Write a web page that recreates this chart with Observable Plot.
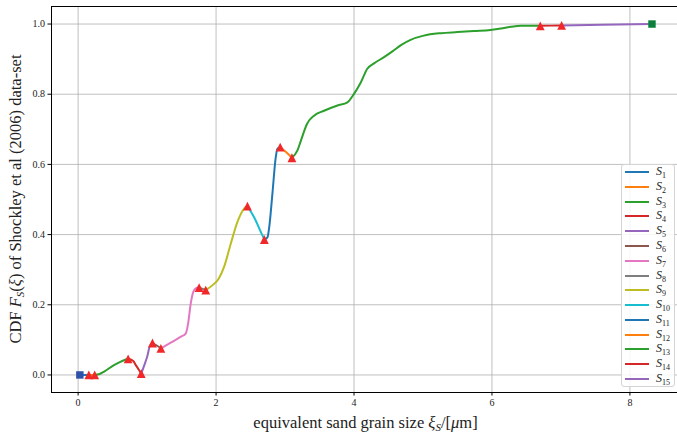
<!DOCTYPE html>
<html>
<head>
<meta charset="utf-8">
<script src="https://cdn.jsdelivr.net/npm/d3@7"></script>
<script src="https://cdn.jsdelivr.net/npm/@observablehq/plot@0.6"></script>
<style>
  body { margin: 0; background: #fff; }
  #chart { position: relative; width: 677px; height: 436px; font-family: "Liberation Serif", serif; }
  .legend { position: absolute; left: 621px; top: 164px; width: 54px; height: 223px;
            border: 1px solid #d4d4d4; border-radius: 3px; background: rgba(255,255,255,0.85);
            box-sizing: border-box; }
  .legend .row { position: absolute; left: 0; height: 14px; width: 54px; }
  .legend .sw { position: absolute; left: 3px; top: 6px; width: 24px; height: 2px; }
  .legend .lab { position: absolute; left: 34px; top: -1px; font-size: 12px; font-style: italic; color: #222; white-space: nowrap; }
  .legend .lab sub { font-size: 8px; font-style: normal; vertical-align: -3px; }
</style>
</head>
<body>
<div id="chart"></div>
<script>
// Break points between the fitted pieces S1..S15 (first and last are the end squares)
const breakX = [0.025, 0.155, 0.24, 0.725, 0.915, 1.078, 1.20, 1.754, 1.85, 2.455, 2.70, 2.93, 3.10, 6.70, 7.01, 8.32];
const breakY = [0.0, 0.0, 0.0, 0.046, 0.004, 0.091, 0.076, 0.249, 0.242, 0.481, 0.386, 0.649, 0.619, 0.995, 0.996, 1.0];

// Interior points of the smooth CDF curve
const traceX = [0.30, 0.377, 0.52, 0.62, 0.667,
                0.80, 0.836, 0.88,
                0.96, 1.005, 1.04,
                1.14,
                1.343, 1.49, 1.56, 1.595, 1.633, 1.67, 1.71,
                1.95, 2.04, 2.116, 2.213, 2.31, 2.406,
                2.55, 2.65,
                2.745, 2.77, 2.817, 2.865, 2.89,
                3.01,
                3.18, 3.23, 3.32, 3.42, 3.565, 3.76, 3.905, 4.0, 4.1, 4.19, 4.29, 4.43, 4.557,
                4.68, 4.82, 5.01, 5.26, 5.50, 5.74, 5.98, 6.13, 6.27, 6.42,
                6.85,
                7.6];
const traceY = [0.002, 0.0095, 0.028, 0.038, 0.042,
                0.040, 0.028, 0.015,
                0.028, 0.055, 0.083,
                0.084,
                0.092, 0.109, 0.118, 0.147, 0.204, 0.237, 0.247,
                0.256, 0.275, 0.308, 0.374, 0.436, 0.474,
                0.450, 0.407,
                0.392, 0.420, 0.517, 0.620, 0.645,
                0.636,
                0.640, 0.668, 0.716, 0.739, 0.753, 0.768, 0.777, 0.801, 0.834, 0.872, 0.888, 0.905, 0.922,
                0.940, 0.955, 0.967, 0.974, 0.977, 0.980, 0.983, 0.987, 0.992, 0.995,
                0.9955,
                0.998];

const seriesNames = ["1","2","3","4","5","6","7","8","9","10","11","12","13","14","15"];
const palette = ["#1f77b4","#ff7f0e","#2ca02c","#d62728","#9467bd","#8c564b","#e377c2","#7f7f7f","#bcbd22","#17becf"];
const xTicks = [0, 2, 4, 6, 8];
const yTicks = [0, 0.2, 0.4, 0.6, 0.8, 1.0];

// One row per vertex, grouped by piece
const rows = [];
for (let i = 0; i < breakX.length - 1; i++) {
  rows.push({seg: i, x: breakX[i], y: breakY[i]});
  traceX.forEach((x, k) => {
    if (x > breakX[i] && x < breakX[i + 1]) rows.push({seg: i, x, y: traceY[k]});
  });
  rows.push({seg: i, x: breakX[i + 1], y: breakY[i + 1]});
}

const knots = breakX.map((x, i) => ({i, x, y: breakY[i]}));
const inner = knots.slice(1, -1);
const ends = [knots[0], knots[knots.length - 1]];
const endColors = ["#2f52a8", "#0d7f3c"];

// upward triangle like a "^" marker: as wide as it is tall
const upTriangle = {
  draw(ctx, size) {
    const a = Math.sqrt(size / Math.PI);
    ctx.moveTo(0, -a);
    ctx.lineTo(a, a);
    ctx.lineTo(-a, a);
    ctx.closePath();
  }
};

const W = 677, H = 436, mL = 51, mT = 6, mR = 0, mB = 44;

const plot = Plot.plot({
  width: W, height: H,
  marginLeft: mL, marginTop: mT, marginRight: mR, marginBottom: mB,
  style: {fontFamily: "Liberation Serif, serif", fontSize: "10px", color: "#222", background: "transparent"},
  x: {domain: [-0.386, 8.69]},
  y: {domain: [-0.05, 1.05]},
  color: {type: "identity"},
  marks: [
    Plot.gridX(xTicks, {stroke: "#b0b0b0", strokeOpacity: 1, strokeWidth: 0.8}),
    Plot.gridY(yTicks, {stroke: "#b0b0b0", strokeOpacity: 1, strokeWidth: 0.8}),
    Plot.axisX(xTicks, {tickSize: 3.5, tickPadding: 3, tickFormat: d3.format("d"), label: null, stroke: "#000"}),
    Plot.axisY(yTicks, {tickSize: 3.5, tickPadding: 3, tickFormat: d3.format(".1f"), label: null, stroke: "#000"}),
    Plot.line(rows, {x: "x", y: "y", z: "seg", stroke: d => palette[d.seg % 10], strokeWidth: 2, curve: "monotone-x"}),
    Plot.dot(ends, {x: "x", y: "y", symbol: "square", r: 4.2, fill: (d, j) => endColors[j], stroke: "none"}),
    Plot.dot(inner, {x: "x", y: "y", symbol: upTriangle, r: 4.4, fill: "#f0282a", stroke: "none"}),
    Plot.ruleX([-0.386], {stroke: "#000", strokeWidth: 1}),
    Plot.ruleY([-0.05, 1.05], {stroke: "#000", strokeWidth: 1})
  ]
});

const chart = document.getElementById("chart");
chart.appendChild(plot);

// Axis titles with italic symbols and subscripts
const svg = d3.select(plot);
const cx = (mL + W - mR + 3) / 2;
const xl = svg.append("text")
  .attr("x", cx).attr("y", 428)
  .attr("text-anchor", "middle")
  .style("font-family", "Liberation Serif, serif").style("font-size", "16.5px").style("fill", "#222");
xl.append("tspan").text("equivalent sand grain size ");
xl.append("tspan").style("font-style", "italic").text("ξ");
xl.append("tspan").style("font-style", "italic").style("font-size", "11px").attr("dy", 3).text("S");
xl.append("tspan").attr("dy", -3).text("/[");
xl.append("tspan").style("font-style", "italic").text("μ");
xl.append("tspan").text("m]");

const cy = (mT + H - mB) / 2;
const yl = svg.append("text")
  .attr("transform", `translate(21,${cy}) rotate(-90)`)
  .attr("text-anchor", "middle")
  .style("font-family", "Liberation Serif, serif").style("font-size", "16.5px").style("fill", "#222");
yl.append("tspan").text("CDF ");
yl.append("tspan").style("font-style", "italic").text("F");
yl.append("tspan").style("font-style", "italic").style("font-size", "11px").attr("dy", 3).text("S");
yl.append("tspan").attr("dy", -3).text("(");
yl.append("tspan").style("font-style", "italic").text("ξ");
yl.append("tspan").text(") of Shockley et al (2006) data-set");

// Legend box
const legend = d3.select(chart).append("div").attr("class", "legend");
seriesNames.forEach((n, i) => {
  const row = legend.append("div").attr("class", "row").style("top", Math.round(i * 14.79) + "px");
  row.append("div").attr("class", "sw").style("background", palette[i % 10]);
  row.append("div").attr("class", "lab").html(`S<sub>${n}</sub>`);
});
</script>
</body>
</html>
